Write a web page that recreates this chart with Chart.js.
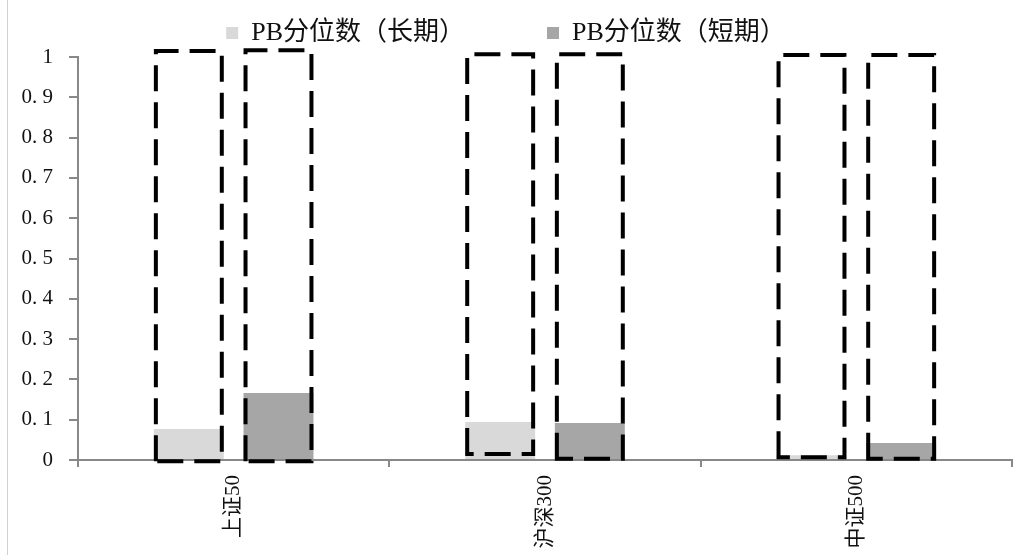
<!DOCTYPE html>
<html>
<head>
<meta charset="utf-8">
<script src="https://cdn.jsdelivr.net/npm/chart.js@4"></script>
<style>
  html, body { margin: 0; padding: 0; background: #fff; }
  #wrap { position: relative; width: 1026px; height: 555px; }
  #frame { position: absolute; left: 7px; top: 0; width: 1px; height: 555px; background: #d0d0d0; }
</style>
</head>
<body>
<div id="wrap">
  <canvas id="pbChart" width="1026" height="555"></canvas>
  <div id="frame"></div>
</div>
<script>
const categories = ['上证50', '沪深300', '中证500'];
const longTerm = [0.077, 0.094, 0.012];
const shortTerm = [0.166, 0.092, 0.042];
// dashed boxes, [bottom, top] for each category
const boxLong = [[-0.008, 1.02], [0.01, 1.012], [0.002, 1.01]];
const boxShort = [[-0.008, 1.022], [-0.002, 1.012], [-0.002, 1.01]];
const yTickLabels = ['0', '0. 1', '0. 2', '0. 3', '0. 4', '0. 5', '0. 6', '0. 7', '0. 8', '0. 9', '1'];

const serif = '"Liberation Serif", "Noto Sans CJK SC", serif';
const axisGray = '#888888';

// dashed outline drawn around each bar slot, heights from the box arrays
const dashedBoxes = {
  id: 'dashedBoxes',
  afterDatasetsDraw(chart) {
    const ctx = chart.ctx;
    const yScale = chart.scales.y;
    [boxLong, boxShort].forEach((boxes, i) => {
      chart.getDatasetMeta(i).data.forEach((bar, j) => {
        const lw = 4;
        const left = bar.x - bar.width / 2 + lw / 2;
        const right = bar.x + bar.width / 2 - lw / 2;
        const top = yScale.getPixelForValue(boxes[j][1]) + lw / 2;
        const bottom = yScale.getPixelForValue(boxes[j][0]) - lw / 2;
        ctx.save();
        ctx.strokeStyle = '#000';
        ctx.lineWidth = lw;
        ctx.setLineDash([26, 11]);
        ctx.beginPath();
        ctx.moveTo(left, bottom);
        ctx.lineTo(left, top);
        ctx.lineTo(right, top);
        ctx.lineTo(right, bottom);
        ctx.closePath();
        ctx.stroke();
        ctx.restore();
      });
    });
  }
};

// keep the legend short so the plot starts close under it
const legendFit = {
  id: 'legendFit',
  beforeLayout(chart) {
    const legend = chart.legend;
    if (!legend || legend._fitPatched) return;
    const fit = legend.fit;
    legend.fit = function () {
      fit.call(this);
      this.height = 119;
    };
    legend._fitPatched = true;
  }
};

new Chart(document.getElementById('pbChart'), {
  type: 'bar',
  data: {
    labels: categories,
    datasets: [
      {label: 'PB分位数（长期）', data: longTerm, backgroundColor: '#d9d9d9'},
      {label: 'PB分位数（短期）', data: shortTerm, backgroundColor: '#a6a6a6'}
    ]
  },
  options: {
    responsive: false,
    animation: false,
    datasets: {
      bar: {categoryPercentage: 0.576, barPercentage: 0.78}
    },
    layout: {padding: {left: 0, right: 14, top: -62, bottom: 0}},
    plugins: {
      tooltip: {enabled: false},
      legend: {
        position: 'top',
        labels: {
          boxWidth: 12,
          boxHeight: 12,
          padding: 82,
          color: '#111',
          font: {family: serif, size: 26}
        }
      }
    },
    scales: {
      x: {
        offset: true,
        grid: {offset: true, drawOnChartArea: false, drawTicks: true, tickLength: 7, color: axisGray, lineWidth: 2},
        border: {color: axisGray, width: 2},
        ticks: {
          color: '#111',
          font: {family: serif, size: 21},
          minRotation: 90,
          maxRotation: 90,
          padding: 8
        },
        afterFit: scale => { scale.height = 95; }
      },
      y: {
        min: 0,
        max: 1,
        ticks: {
          stepSize: 0.1,
          color: '#111',
          font: {family: serif, size: 21},
          padding: 16,
          callback: (v, i) => yTickLabels[i]
        },
        grid: {drawOnChartArea: false, drawTicks: true, tickLength: 9, color: axisGray, lineWidth: 2},
        border: {color: axisGray, width: 2},
        afterFit: scale => { scale.width = 78; }
      }
    }
  },
  plugins: [dashedBoxes, legendFit]
});
</script>
</body>
</html>
